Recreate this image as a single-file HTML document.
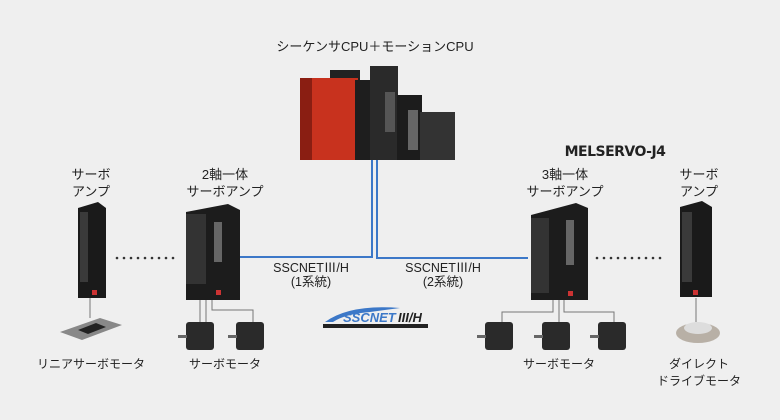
<!DOCTYPE html>
<html><head><meta charset="utf-8"><style>
body{margin:0;width:780px;height:420px;background:#efefef;position:relative;overflow:hidden;font-family:"Liberation Sans","Noto Sans CJK JP",sans-serif;color:#222}
.t{position:absolute;font-size:12px;line-height:17px;text-align:center;white-space:nowrap;transform:translateX(-50%)}
.a{position:absolute}
</style></head><body>
<svg class="a" style="left:0;top:0" width="780" height="420">
<g stroke="#3c78c8" stroke-width="2" fill="none">
<polyline points="372,160 372,257 240,257"/>
<polyline points="377,160 377,258 528,258"/>
</g>
<g stroke="#777" stroke-width="1" fill="none">
<line x1="206" y1="300" x2="206" y2="322"/>
<polyline points="212,300 212,310 253,310 253,322"/>
<line x1="200" y1="300" x2="200" y2="322"/>
<polyline points="553,300 553,312 502,312 502,322"/>
<line x1="559" y1="300" x2="559" y2="322"/>
<polyline points="564,300 564,312 614,312 614,322"/>
<line x1="696" y1="298" x2="696" y2="322"/>
<line x1="90" y1="298" x2="90" y2="318"/>
</g>
<g fill="#333">
<circle cx="117" cy="258" r="1.3"/><circle cx="124" cy="258" r="1.3"/><circle cx="131" cy="258" r="1.3"/><circle cx="138" cy="258" r="1.3"/><circle cx="145" cy="258" r="1.3"/><circle cx="152" cy="258" r="1.3"/><circle cx="159" cy="258" r="1.3"/><circle cx="166" cy="258" r="1.3"/><circle cx="173" cy="258" r="1.3"/>
<circle cx="597" cy="258" r="1.3"/><circle cx="604" cy="258" r="1.3"/><circle cx="611" cy="258" r="1.3"/><circle cx="618" cy="258" r="1.3"/><circle cx="625" cy="258" r="1.3"/><circle cx="632" cy="258" r="1.3"/><circle cx="639" cy="258" r="1.3"/><circle cx="646" cy="258" r="1.3"/><circle cx="653" cy="258" r="1.3"/><circle cx="660" cy="258" r="1.3"/>
</g>
<rect x="330" y="70" width="30" height="20" fill="#222"/>
<rect x="300" y="78" width="58" height="82" fill="#c8321e"/>
<rect x="300" y="78" width="12" height="82" fill="#8a1e12"/>
<rect x="355" y="80" width="30" height="80" fill="#1e1e1e"/>
<rect x="370" y="66" width="28" height="94" fill="#2a2a2a"/>
<rect x="385" y="92" width="10" height="40" fill="#555"/>
<rect x="397" y="95" width="25" height="65" fill="#1c1c1c"/>
<rect x="420" y="112" width="35" height="48" fill="#333"/>
<rect x="408" y="110" width="10" height="40" fill="#666"/>
<polygon points="78,208 98,202 106,208 106,298 78,298" fill="#1a1a1a"/>
<rect x="80" y="212" width="8" height="70" fill="#3a3a3a"/>
<rect x="92" y="290" width="5" height="5" fill="#c33"/>
<polygon points="186,212 228,204 240,210 240,300 186,300" fill="#1c1c1c"/>
<rect x="186" y="214" width="20" height="70" fill="#333"/>
<rect x="214" y="222" width="8" height="40" fill="#666"/>
<rect x="216" y="290" width="5" height="5" fill="#c33"/>
<polygon points="531,215 576,203 588,208 588,300 531,300" fill="#1c1c1c"/>
<rect x="531" y="218" width="18" height="75" fill="#333"/>
<rect x="566" y="220" width="8" height="45" fill="#666"/>
<rect x="568" y="291" width="5" height="5" fill="#c33"/>
<polygon points="680,207 702,201 712,207 712,297 680,297" fill="#1a1a1a"/>
<rect x="682" y="212" width="10" height="70" fill="#3a3a3a"/>
<rect x="693" y="290" width="5" height="5" fill="#c33"/>
<g fill="#2a2a2a">
<rect x="186" y="322" width="28" height="28" rx="3"/><rect x="236" y="322" width="28" height="28" rx="3"/>
<rect x="485" y="322" width="28" height="28" rx="3"/><rect x="542" y="322" width="28" height="28" rx="3"/><rect x="598" y="322" width="28" height="28" rx="3"/>
</g>
<g fill="#666"><rect x="178" y="335" width="9" height="3"/><rect x="228" y="335" width="9" height="3"/><rect x="477" y="335" width="9" height="3"/><rect x="534" y="335" width="9" height="3"/><rect x="590" y="335" width="9" height="3"/></g>
<polygon points="60,332 100,318 122,325 82,340" fill="#888"/>
<polygon points="78,330 96,323 106,327 88,334" fill="#222"/>
<ellipse cx="698" cy="333" rx="22" ry="10" fill="#b8b0a6"/>
<ellipse cx="698" cy="328" rx="14" ry="6" fill="#ddd"/>
<path d="M325,322 Q350,304 400,308 L370,312 Q345,314 333,322Z" fill="#3c78c8"/>
<text x="343" y="322" font-family="Liberation Sans" font-size="13" font-weight="bold" font-style="italic" fill="#3c78c8">SSCNET</text>
<text x="398" y="322" font-family="Liberation Sans" font-size="13" font-weight="bold" font-style="italic" fill="#222">III/H</text>
<rect x="323" y="324" width="105" height="4" fill="#222"/>
</svg>
<div class="t" style="left:375px;top:38px;font-size:13px">シーケンサCPU＋モーションCPU</div>
<div class="t" style="left:91px;top:166px;font-size:13px">サーボ<br>アンプ</div>
<div class="t" style="left:225px;top:166px;font-size:13px">2軸一体<br>サーボアンプ</div>
<div class="t" style="left:565px;top:166px;font-size:13px">3軸一体<br>サーボアンプ</div>
<div class="t" style="left:699px;top:166px;font-size:13px">サーボ<br>アンプ</div>
<div class="t" style="left:615px;top:144px;font-family:'DejaVu Sans',sans-serif;font-size:14px;font-weight:bold;letter-spacing:-0.5px">MELSERVO-J4</div>
<div class="t" style="left:311px;top:261px;line-height:14px;font-size:12.5px">SSCNETⅢ/H<br>(1系統)</div>
<div class="t" style="left:443px;top:261px;line-height:14px;font-size:12.5px">SSCNETⅢ/H<br>(2系統)</div>
<div class="t" style="left:91px;top:356px">リニアサーボモータ</div>
<div class="t" style="left:225px;top:356px">サーボモータ</div>
<div class="t" style="left:559px;top:356px">サーボモータ</div>
<div class="t" style="left:699px;top:356px">ダイレクト<br>ドライブモータ</div>
</body></html>
